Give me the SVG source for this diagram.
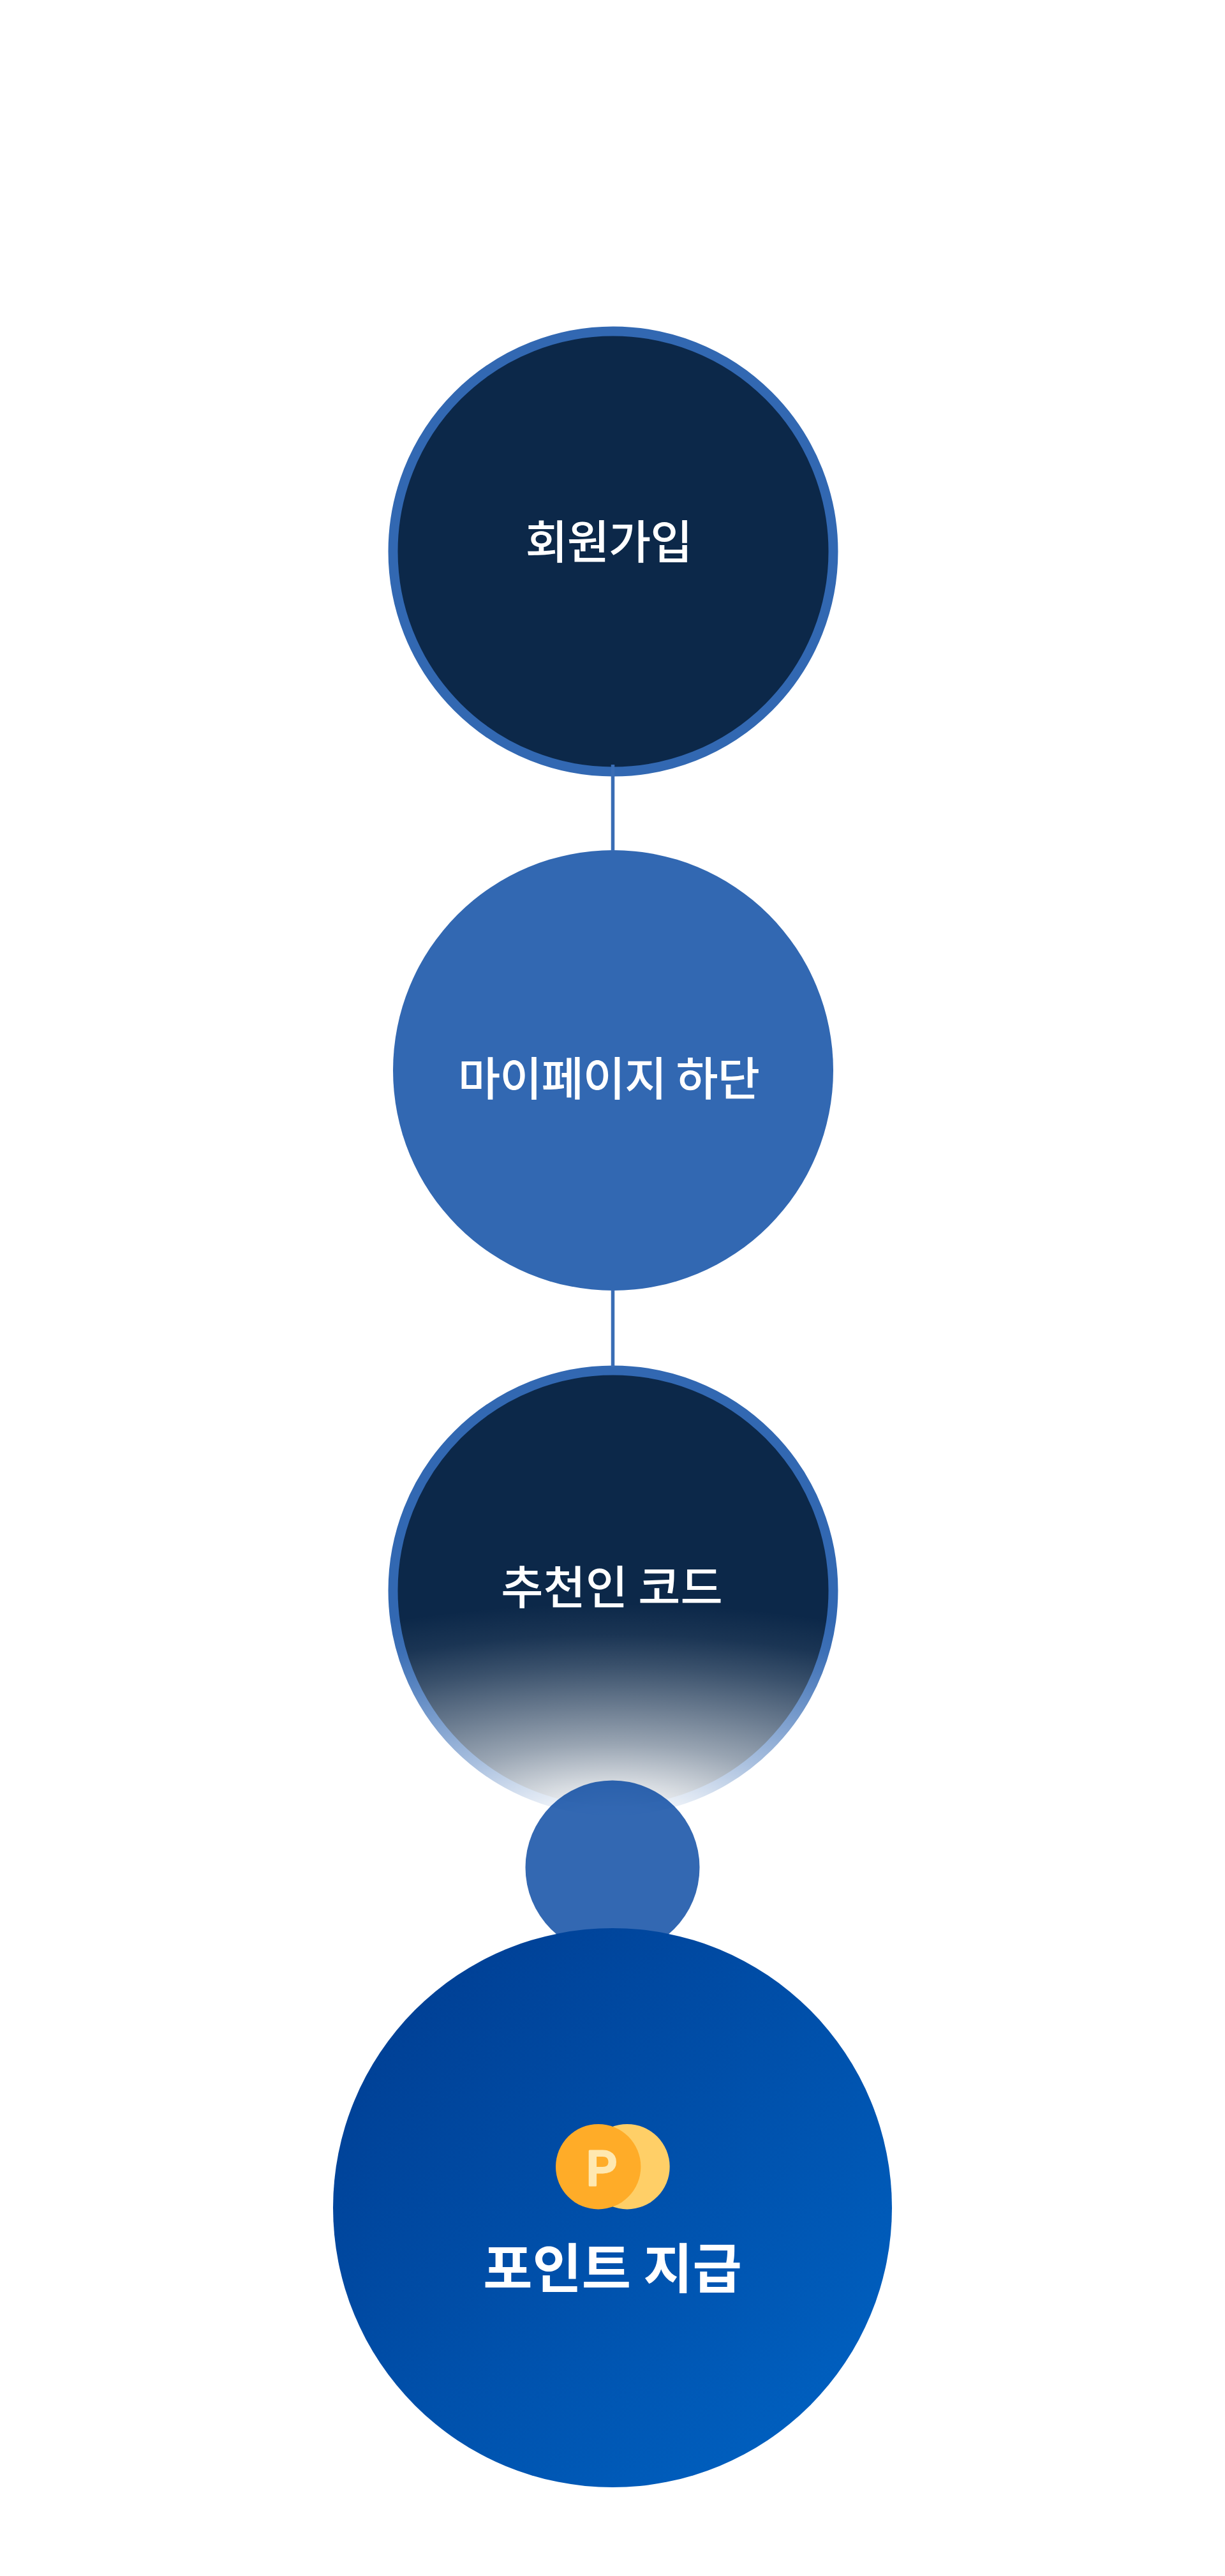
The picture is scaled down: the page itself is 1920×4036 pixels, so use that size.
<svg xmlns="http://www.w3.org/2000/svg" width="1920" height="4036" viewBox="0 0 1920 4036">
<style>
.label{font-family:"Noto Sans CJK KR","Noto Sans",sans-serif;fill:#fff;text-anchor:middle;font-size:72px;font-weight:500}
.tight{letter-spacing:-1px}
.dark{fill:#0c2849;stroke:#3268b2;stroke-width:15}
.conn{stroke:#3a6db5;stroke-width:5.5;fill:none}
</style>
<defs>
<linearGradient id="big" x1="0" y1="0" x2="1" y2="1"><stop offset="0.1" stop-color="#003f94"/><stop offset="0.9" stop-color="#0060c0"/></linearGradient>
<radialGradient id="fade" gradientUnits="userSpaceOnUse" cx="0" cy="0" r="1" gradientTransform="translate(961 2862) scale(900 350)">
<stop offset="0" stop-color="#fff" stop-opacity="1"/>
<stop offset="0.09" stop-color="#fff" stop-opacity="0.97"/>
<stop offset="0.197" stop-color="#fff" stop-opacity="0.83"/>
<stop offset="0.371" stop-color="#fff" stop-opacity="0.58"/>
<stop offset="0.546" stop-color="#fff" stop-opacity="0.38"/>
<stop offset="0.72" stop-color="#fff" stop-opacity="0.19"/>
<stop offset="0.86" stop-color="#fff" stop-opacity="0.06"/>
<stop offset="1" stop-color="#fff" stop-opacity="0"/>
</radialGradient>
</defs>
<rect width="1920" height="4036" fill="#fff"/>
<g id="node-signup"><circle class="dark" cx="961" cy="864" r="345"/><text class="label tight" x="954" y="875">회원가입</text></g>
<g id="node-mypage"><circle cx="961" cy="1677" r="345" fill="#3268b2"/><text class="label tight" x="954" y="1716">마이페이지 하단</text></g>
<g id="node-code"><circle class="dark" cx="961" cy="2492" r="345"/><circle cx="961" cy="2492" r="353.5" fill="url(#fade)"/><text class="label" x="959" y="2513">추천인 코드</text></g>
<g id="connectors"><line class="conn" x1="960.5" y1="1198" x2="960.5" y2="1333"/><line class="conn" x1="960.5" y1="2021" x2="960.5" y2="2142"/></g>
<g id="node-dot"><circle cx="960" cy="2926" r="136.5" fill="#00429f" fill-opacity="0.8"/></g>
<g id="node-point"><circle cx="960" cy="3459" r="438" fill="url(#big)"/>
<circle cx="983" cy="3394.7" r="66.7" fill="#ffcf67"/><circle cx="937.7" cy="3394.7" r="66.7" fill="#ffac28"/>
<text x="943" y="3423.5" text-anchor="middle" font-family="Roboto,sans-serif" font-weight="500" font-size="76" fill="#ffe8b0" stroke="#ffe8b0" stroke-width="3" stroke-linejoin="round">P</text>
<text class="label" x="960" y="3585" style="font-size:84px;font-weight:700">포인트 지급</text></g>
</svg>
